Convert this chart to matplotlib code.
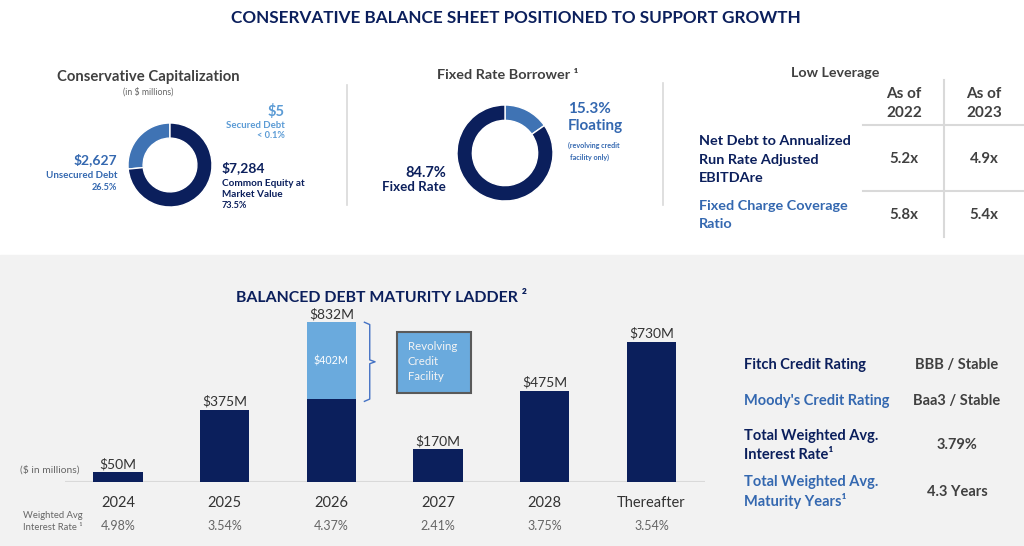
import matplotlib
matplotlib.use('Agg')
import matplotlib.pyplot as plt
from matplotlib.patches import Rectangle

plt.rcParams['font.family'] = ['Lato', 'DejaVu Sans']

# ---- data ----
cap_labels = ['Secured Debt', 'Unsecured Debt', ['Common Equity at', 'Market Value']]
cap_values = [5, 2627, 7284]

rate_labels = ['Floating', 'Fixed Rate']
rate_values = [15.3, 84.7]

lev_cols = ['2022', '2023']
lev_rows = [['Net Debt to Annualized', 'Run Rate Adjusted', 'EBITDAre'],
            ['Fixed Charge Coverage', 'Ratio']]
lev_vals = [[5.2, 4.9], [5.8, 5.4]]

years = ['2024', '2025', '2026', '2027', '2028', 'Thereafter']
term_debt = [50, 375, 430, 170, 475, 730]
revolver = [0, 0, 402, 0, 0, 0]
avg_rates = [4.98, 3.54, 4.37, 2.41, 3.75, 3.54]

rating_labels = [['Fitch Credit Rating'], ["Moody's Credit Rating"],
                 ['Total Weighted Avg.', 'Interest Rate\u00b9'],
                 ['Total Weighted Avg.', 'Maturity Years\u00b9']]
rating_values = ['BBB / Stable', 'Baa3 / Stable', '3.79%', '4.3 Years']

# ---- colours ----
NAVY = '#0b1f5c'
MID = '#3f73b4'
BLUE_TXT = '#3468b0'
LIGHT = '#6aaadd'
SKY = '#5b9bd5'
GREY = '#404040'
LINE = '#d9d9d9'

W, H = 1024, 546
fig = plt.figure(figsize=(W / 100, H / 100), dpi=100)
fig.patch.set_facecolor('white')


def px_axes(left, top, width, height):
    return fig.add_axes([left / W, 1 - (top + height) / H, width / W, height / H])


# background / text layer in pixel coordinates
bg = fig.add_axes([0, 0, 1, 1])
bg.set_xlim(0, W)
bg.set_ylim(H, 0)
bg.axis('off')
bg.add_patch(Rectangle((0, 255), W, H - 255, color='#f2f2f2', zorder=0))

bg.text(516, 18, 'CONSERVATIVE BALANCE SHEET POSITIONED TO SUPPORT GROWTH',
        ha='center', va='center', fontsize=12.3, fontweight='bold', color=NAVY)

# ---- Conservative capitalization donut ----
total = sum(cap_values)
pcts = [v / total * 100 for v in cap_values]
bg.text(148, 77, 'Conservative Capitalization', ha='center', va='center',
        fontsize=10.7, fontweight='bold', color=GREY)
bg.text(148, 92, '(in $ millions)', ha='center', va='center', fontsize=6.3, color='#666666')

ax1 = px_axes(170 - 42, 165 - 42, 84, 84)
ax1.pie(cap_values, colors=[SKY, MID, NAVY], startangle=90, counterclock=True,
        wedgeprops=dict(width=0.36, edgecolor='white', linewidth=1))
ax1.set_xlim(-1, 1)
ax1.set_ylim(-1, 1)

# secured
bg.text(285, 112, f'${cap_values[0]:,}', ha='right', va='center', fontsize=10.5,
        fontweight='bold', color=SKY)
bg.text(285, 125, cap_labels[0], ha='right', va='center', fontsize=6.9,
        fontweight='bold', color=SKY)
pct0 = '< 0.1%' if pcts[0] < 0.1 else f'{pcts[0]:.1f}%'
bg.text(285, 136, pct0, ha='right', va='center', fontsize=6.6, fontweight='bold', color=SKY)
# unsecured
bg.text(117, 160, f'${cap_values[1]:,}', ha='right', va='center', fontsize=10,
        fontweight='bold', color=BLUE_TXT)
bg.text(117, 175, cap_labels[1], ha='right', va='center', fontsize=7,
        fontweight='bold', color=BLUE_TXT)
bg.text(117, 188, f'{pcts[1]:.1f}%', ha='right', va='center', fontsize=6.6,
        fontweight='bold', color=BLUE_TXT)
# equity
bg.text(222, 168, f'${cap_values[2]:,}', ha='left', va='center', fontsize=10,
        fontweight='bold', color=NAVY)
for i, line in enumerate(cap_labels[2]):
    bg.text(222, 183 + i * 11.5, line, ha='left', va='center', fontsize=7.2,
            fontweight='bold', color=NAVY)
bg.text(222, 206, f'{pcts[2]:.1f}%', ha='left', va='center', fontsize=6.6,
        fontweight='bold', color=NAVY)

# ---- Fixed rate borrower donut ----
bg.plot([347, 347], [85, 205], color=LINE, lw=1.2)
bg.text(508, 75, 'Fixed Rate Borrower \u00b9', ha='center', va='center',
        fontsize=10.4, fontweight='bold', color=GREY)
ax2 = px_axes(505 - 48, 153 - 48, 96, 96)
ax2.pie(rate_values, colors=[MID, NAVY], startangle=90, counterclock=False,
        wedgeprops=dict(width=0.32, edgecolor='white', linewidth=1))
ax2.set_xlim(-1, 1)
ax2.set_ylim(-1, 1)

bg.text(568, 109, f'{rate_values[0]:.1f}%', ha='left', va='center', fontsize=11,
        fontweight='bold', color=BLUE_TXT)
bg.text(568, 126, rate_labels[0], ha='left', va='center', fontsize=11,
        fontweight='bold', color=BLUE_TXT)
bg.text(568, 145, '(revolving credit', ha='left', va='center', fontsize=5.1,
        fontweight='bold', color=BLUE_TXT)
bg.text(570, 157, 'facility only)', ha='left', va='center', fontsize=5.1,
        fontweight='bold', color=BLUE_TXT)
bg.text(446, 173, f'{rate_values[1]:.1f}%', ha='right', va='center', fontsize=10.5,
        fontweight='bold', color=NAVY)
bg.text(446, 187, rate_labels[1], ha='right', va='center', fontsize=9.6,
        fontweight='bold', color=NAVY)

# ---- Low leverage table ----
bg.plot([663, 663], [83, 205], color=LINE, lw=1.2)
bg.plot([944, 944], [80, 237], color=LINE, lw=1.5)
bg.plot([863, W], [125, 125], color=LINE, lw=1.5)
bg.plot([863, W], [191, 191], color=LINE, lw=1.5)
bg.text(835, 73, 'Low Leverage', ha='center', va='center', fontsize=10.3,
        fontweight='bold', color=GREY)
col_x = [904, 984]
for cx, col in zip(col_x, lev_cols):
    bg.text(cx, 94, 'As of', ha='center', va='center', fontsize=11, fontweight='bold', color=GREY)
    bg.text(cx, 113, col, ha='center', va='center', fontsize=11, fontweight='bold', color=GREY)

row_top = [141, 206]
row_mid = [159, 215]
row_col = [NAVY, BLUE_TXT]
for r, lines in enumerate(lev_rows):
    for i, line in enumerate(lines):
        bg.text(699, row_top[r] + i * 18.5, line, ha='left', va='center', fontsize=10.4,
                fontweight='bold', color=row_col[r])
    for cx, v in zip(col_x, lev_vals[r]):
        bg.text(cx, row_mid[r], f'{v:.1f}x', ha='center', va='center', fontsize=10.8,
                fontweight='bold', color=GREY)

# ---- Debt maturity ladder ----
bg.text(381, 298, 'BALANCED DEBT MATURITY LADDER \u00b2', ha='center', va='center',
        fontsize=11.4, fontweight='bold', color=NAVY)

slot = 106.67
base_y = 482
scale = 0.192  # px per $M
top_px = 300
axb = px_axes(118 - slot / 2, top_px, slot * 6, base_y - top_px)
axb.set_facecolor('none')
x = list(range(len(years)))
totals = [a + b for a, b in zip(term_debt, revolver)]
axb.bar(x, term_debt, width=0.46, color=NAVY, zorder=3)
axb.bar(x, revolver, width=0.46, bottom=term_debt, color=LIGHT, zorder=3)
axb.set_xlim(-0.5, len(years) - 0.5)
axb.set_ylim(0, (base_y - top_px) / scale)
axb.axhline(0, color=LINE, lw=1.5, zorder=2)
for s in axb.spines.values():
    s.set_visible(False)
axb.set_yticks([])
axb.set_xticks(x)
axb.set_xticklabels(years, fontsize=10.5, color='#333333')
axb.tick_params(axis='x', length=0, pad=10)

for i, t in enumerate(totals):
    axb.annotate(f'${t}M', (i, t), xytext=(0, 6), textcoords='offset points',
                 ha='center', va='center', fontsize=10, color='#333333')
    axb.annotate(f'{avg_rates[i]:.2f}%', (i, 0), xytext=(0, -32), textcoords='offset points',
                 ha='center', va='center', fontsize=9, color='#666666')
for i, r in enumerate(revolver):
    if r:
        axb.text(i, term_debt[i] + r / 2, f'${r}M', ha='center', va='center',
                 fontsize=7.7, color='white', zorder=4)
        # bracket next to the revolver segment
        y0, y1 = term_debt[i] - 10, term_debt[i] + r
        ym = (y0 + y1) / 2
        bx = i + 0.36
        axb.plot([bx - 0.05, bx, bx, bx + 0.05, bx, bx, bx - 0.05],
                 [y1, y1 - 12, ym + 10, ym, ym - 10, y0 + 12, y0],
                 color='#4472c4', lw=1, zorder=3)

bg.text(20, 470, '($ in millions)', ha='left', va='center', fontsize=7.4, color='#666666')
bg.text(23, 516, 'Weighted Avg', ha='left', va='center', fontsize=6.8, color='#666666')
bg.text(23, 527, 'Interest Rate \u00b9', ha='left', va='center', fontsize=6.8, color='#666666')

bg.add_patch(Rectangle((397, 332), 74, 61, facecolor=LIGHT, edgecolor='#5a5a5a', lw=1.5, zorder=2))
for i, line in enumerate(['Revolving', 'Credit', 'Facility']):
    bg.text(408, 346 + i * 15.5, line, ha='left', va='center', fontsize=8.3,
            color='#f4f4f4', zorder=3)

# ---- ratings panel ----
lab_y = [[365], [401], [436, 455], [482, 501]]
val_y = [365, 401, 445, 492]
lab_col = [NAVY, BLUE_TXT, NAVY, BLUE_TXT]
for k, lines in enumerate(rating_labels):
    for line, yy in zip(lines, lab_y[k]):
        bg.text(744, yy, line, ha='left', va='center', fontsize=10.5,
                fontweight='bold', color=lab_col[k])
    bg.text(957, val_y[k], rating_values[k], ha='center', va='center', fontsize=10.5,
            fontweight='bold', color=GREY)

fig.savefig('out.png', dpi=100)
